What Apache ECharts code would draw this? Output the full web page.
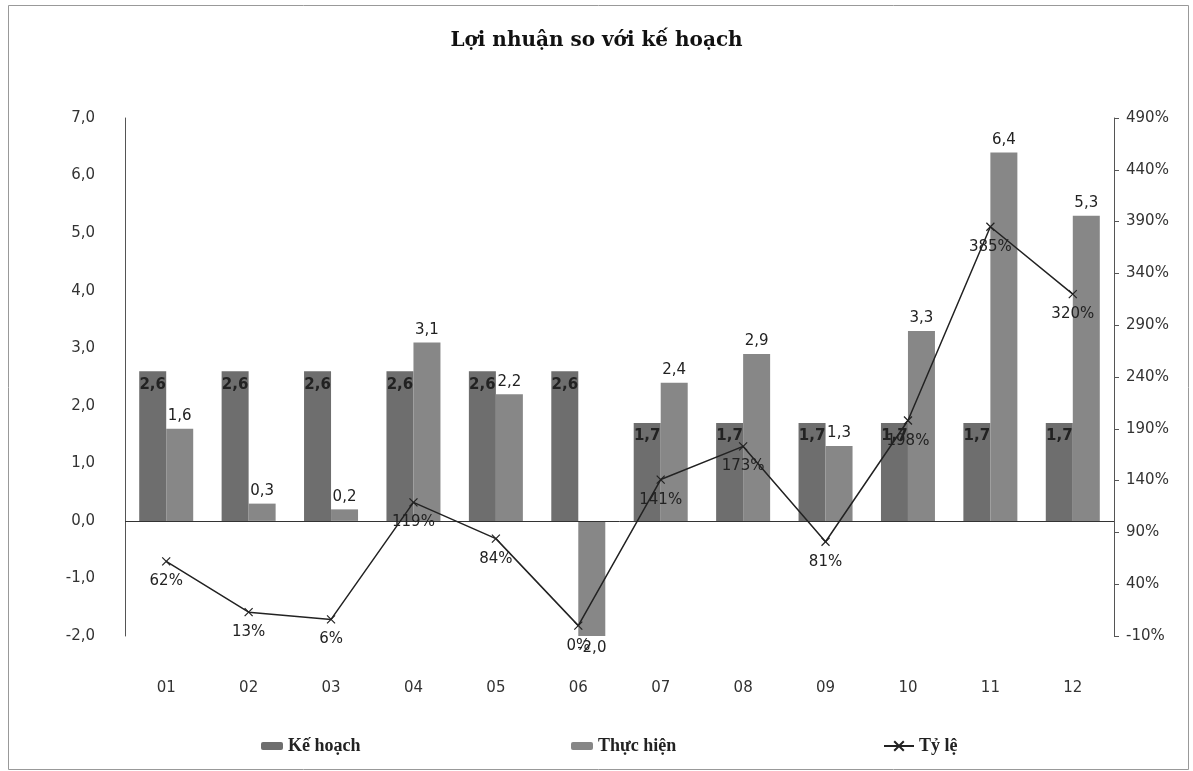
<!DOCTYPE html>
<html>
<head>
<meta charset="utf-8">
<script src="https://cdn.jsdelivr.net/npm/echarts@6/dist/echarts.min.js"></script>
<style>
html,body{margin:0;padding:0;background:#fff;}
#chart{width:1193px;height:771px;}
</style>
</head>
<body>
<div id="chart"></div>
<script>
const categories = ['01','02','03','04','05','06','07','08','09','10','11','12'];
const keHoach = [2.6, 2.6, 2.6, 2.6, 2.6, 2.6, 1.7, 1.7, 1.7, 1.7, 1.7, 1.7];
const thucHien = [1.6, 0.3, 0.2, 3.1, 2.2, -2.0, 2.4, 2.9, 1.3, 3.3, 6.4, 5.3];
const tyLe = [62, 13, 6, 119, 84, 0, 141, 173, 81, 198, 385, 320];
const rightTicks = [-10, 40, 90, 140, 190, 240, 290, 340, 390, 440, 490];

const fmt1 = v => v.toFixed(1).replace('.', ',');
const axisFont = { fontFamily: 'DejaVu Sans', fontSize: 15, color: '#333' };
const legendFont = { fontFamily: 'Liberation Serif', fontSize: 18, fontWeight: 'bold', color: '#222' };
const cross = 'path://M0,0L10,10M0,10L10,0';

const chart = echarts.init(document.getElementById('chart'));
chart.setOption({
  animation: false,
  backgroundColor: '#fff',
  graphic: [{
    type: 'rect', left: 6, top: 3, silent: true,
    shape: { width: 1180, height: 764 },
    style: { fill: 'none', stroke: '#999', lineWidth: 1 }
  }],
  title: {
    text: 'Lợi nhuận so với kế hoạch',
    left: 'center', top: 26,
    textStyle: { fontFamily: 'DejaVu Serif', fontSize: 20, fontWeight: 'bold', color: '#111' }
  },
  grid: { left: 125, right: 79, top: 118, bottom: 135 },
  legend: [
    { data: ['Kế hoạch'], left: 256, top: 732, itemWidth: 22, itemHeight: 8, itemGap: 4, textStyle: legendFont },
    { data: ['Thực hiện'], left: 566, top: 732, itemWidth: 22, itemHeight: 8, textStyle: legendFont },
    { data: ['Tỷ lệ'], left: 878, top: 732, itemWidth: 30, itemHeight: 12, textStyle: legendFont }
  ],
  xAxis: {
    type: 'category',
    data: categories,
    axisLine: { show: false },
    axisTick: { show: false },
    axisLabel: Object.assign({ margin: 45 }, axisFont)
  },
  yAxis: [
    {
      type: 'value', min: -2, max: 7, interval: 1,
      axisLine: { show: true, lineStyle: { color: '#555' } },
      axisTick: { show: false },
      splitLine: { show: false },
      axisLabel: Object.assign({ margin: 30, formatter: v => fmt1(v) }, axisFont)
    },
    {
      type: 'value', min: -10, max: 490, position: 'right',
      axisLine: { show: true, lineStyle: { color: '#555' } },
      axisTick: { show: true, length: 5, customValues: rightTicks, lineStyle: { color: '#555' } },
      splitLine: { show: false },
      axisLabel: Object.assign({ margin: 12, customValues: rightTicks, formatter: v => v + '%' }, axisFont)
    }
  ],
  series: [
    {
      name: 'Kế hoạch', type: 'bar', data: keHoach,
      barWidth: 27, barGap: '0%',
      itemStyle: { color: '#6e6e6e' },
      label: {
        show: true, position: 'insideTop', distance: 6,
        formatter: p => fmt1(p.value),
        fontFamily: 'DejaVu Sans', fontSize: 15, fontWeight: 'bold', color: '#222'
      },
      markLine: {
        silent: true, symbol: ['none', 'none'],
        label: { show: false },
        lineStyle: { color: '#333', width: 1, type: 'solid' },
        data: [{ yAxis: 0 }]
      }
    },
    {
      name: 'Thực hiện', type: 'bar', data: thucHien,
      barWidth: 27,
      itemStyle: { color: '#878787' },
      label: {
        show: true, position: 'outside', distance: 5,
        formatter: p => fmt1(p.value),
        fontFamily: 'DejaVu Sans', fontSize: 15, color: '#222'
      }
    },
    {
      name: 'Tỷ lệ', type: 'line', data: tyLe, yAxisIndex: 1,
      symbol: cross, symbolSize: 8,
      lineStyle: { color: '#222', width: 1.5 },
      itemStyle: { color: '#222', borderColor: '#222', borderWidth: 1.2 },
      label: {
        show: true, position: 'bottom', distance: 8,
        formatter: p => p.value + '%',
        fontFamily: 'DejaVu Sans', fontSize: 15, color: '#222'
      },
      z: 5
    }
  ]
});
</script>
</body>
</html>
